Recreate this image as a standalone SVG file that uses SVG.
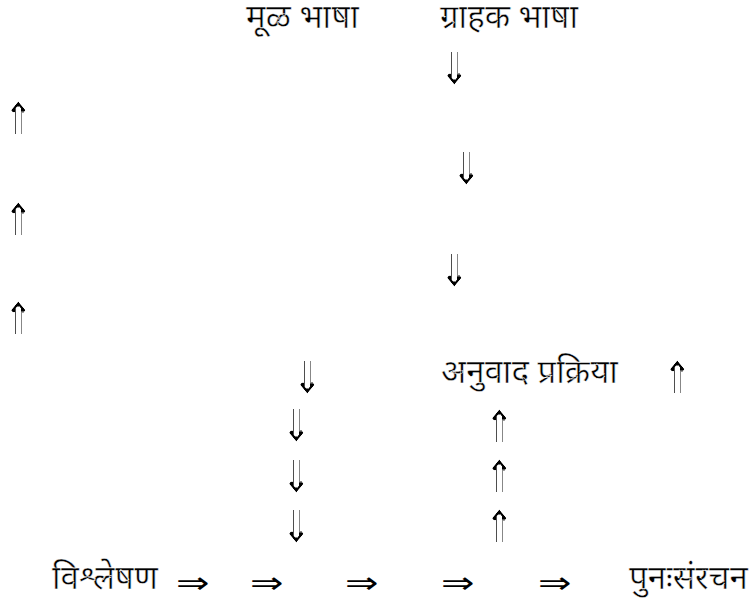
<svg xmlns="http://www.w3.org/2000/svg" width="756" height="606" viewBox="0 0 756 606">
<defs>
<filter id="thin" x="-20%" y="-20%" width="140%" height="140%">
<feMorphology operator="erode" radius="0.8 0"/>
<feComponentTransfer><feFuncA type="linear" slope="1.6"/></feComponentTransfer>
</filter>
</defs>
<style>
.lbl{font-family:"Noto Sans Devanagari","Noto Sans","Liberation Sans",sans-serif;font-size:33px;font-weight:400;fill:#000;stroke:#fff;stroke-width:0.5px}
.arr{font-family:"DejaVu Sans",sans-serif;font-size:40px;fill:#000}
</style>
<rect width="756" height="606" fill="#fff"/>
<g id="mul-bhasha"><text class="lbl" x="246" y="28">मूळ भाषा</text></g>
<g id="grahak-bhasha"><text class="lbl" x="440" y="28">ग्राहक भाषा</text></g>
<g id="anuvad-prakriya"><text class="lbl" x="441" y="383">अनुवाद प्रक्रिया</text></g>
<g id="vishleshan"><text class="lbl" x="52" y="589">विश्लेषण</text></g>
<g id="punahsanrachan"><text class="lbl" x="629" y="589">पुनःसंरचन</text></g>
<g id="connectors">
<g filter="url(#thin)">
<text class="arr" transform="translate(439,84) scale(0.92,1.1)">⇓</text>
<text class="arr" transform="translate(3,134) scale(0.92,1.1)">⇑</text>
<text class="arr" transform="translate(451,184) scale(0.92,1.1)">⇓</text>
<text class="arr" transform="translate(3,235) scale(0.92,1.1)">⇑</text>
<text class="arr" transform="translate(439,286) scale(0.92,1.1)">⇓</text>
<text class="arr" transform="translate(3,334) scale(0.92,1.1)">⇑</text>
<text class="arr" transform="translate(292,393) scale(0.92,1.1)">⇓</text>
<text class="arr" transform="translate(662,393) scale(0.92,1.1)">⇑</text>
<text class="arr" transform="translate(281,441) scale(0.92,1.1)">⇓</text>
<text class="arr" transform="translate(484,442) scale(0.92,1.1)">⇑</text>
<text class="arr" transform="translate(281,492) scale(0.92,1.1)">⇓</text>
<text class="arr" transform="translate(484,492) scale(0.92,1.1)">⇑</text>
<text class="arr" transform="translate(281,542) scale(0.92,1.1)">⇓</text>
<text class="arr" transform="translate(484,542) scale(0.92,1.1)">⇑</text>
</g>
<text class="arr" transform="translate(176,593) scale(1,0.75)">⇒</text>
<text class="arr" transform="translate(250,593) scale(1,0.75)">⇒</text>
<text class="arr" transform="translate(345,593) scale(1,0.75)">⇒</text>
<text class="arr" transform="translate(441,593) scale(1,0.75)">⇒</text>
<text class="arr" transform="translate(538,593) scale(1,0.75)">⇒</text>
</g>
</svg>
